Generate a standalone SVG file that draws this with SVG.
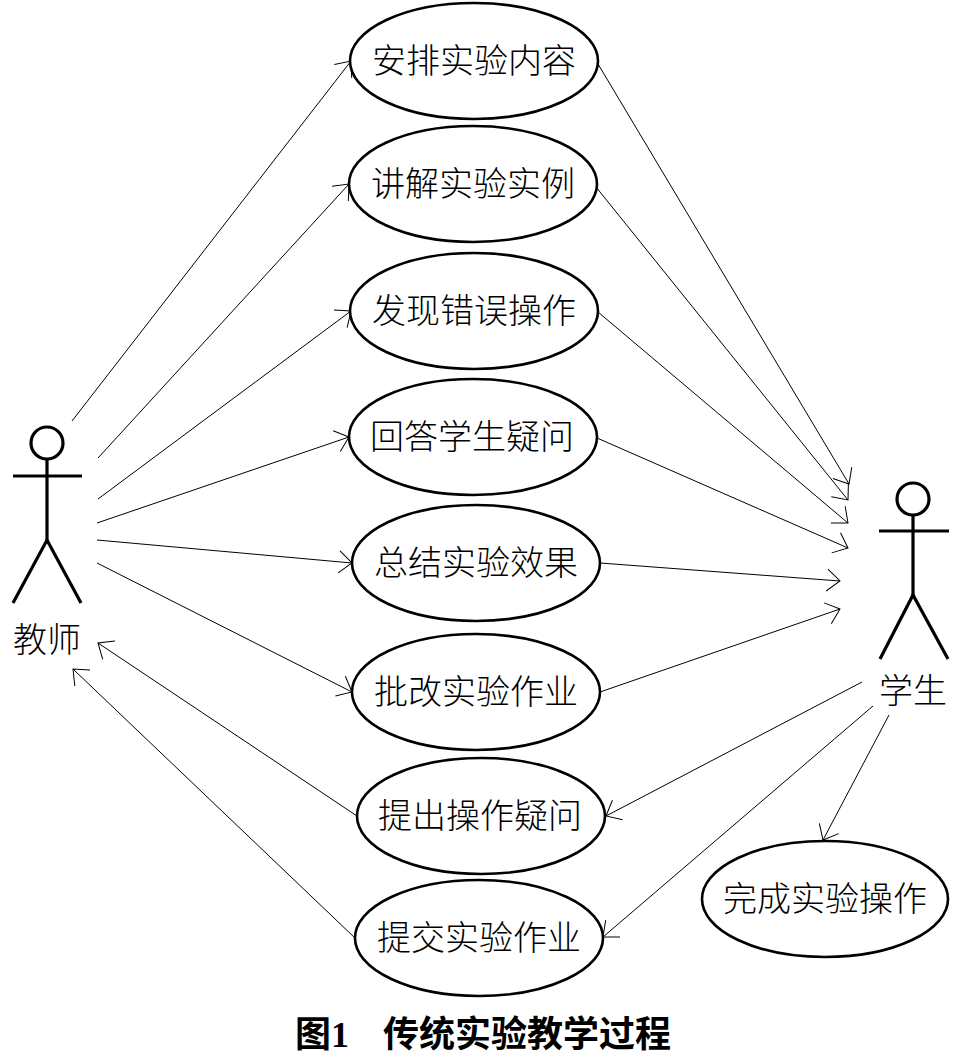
<svg xmlns="http://www.w3.org/2000/svg" width="967" height="1055" viewBox="0 0 967 1055">
<defs>
<style>
.uc{fill:#fff;stroke:#000;stroke-width:2.6}
.lbl{font-family:"Noto Sans CJK SC","Noto Sans CJK JP",sans-serif;font-size:34px;font-weight:300;fill:#000;text-anchor:middle}
.act{fill:none;stroke:#000;stroke-width:3.2}
.con{fill:none;stroke:#000;stroke-width:1;marker-end:url(#arr)}
.cap{font-family:"Noto Sans CJK SC","Noto Sans CJK JP",sans-serif;font-size:36px;font-weight:bold;fill:#000}
</style>
<marker id="arr" markerUnits="userSpaceOnUse" markerWidth="30" markerHeight="30" viewBox="-16 -15 18 30" refX="0" refY="0" orient="auto">
<path d="M-13,-11 L0,0 L-13,11" fill="none" stroke="#000" stroke-width="1"/>
</marker>
</defs>
<rect width="967" height="1055" fill="#fff"/>

<g id="connectors">
<line class="con" x1="72" y1="421" x2="351" y2="61"/>
<line class="con" x1="98" y1="458" x2="349" y2="184"/>
<line class="con" x1="98" y1="499" x2="351" y2="311"/>
<line class="con" x1="97" y1="523" x2="349" y2="437"/>
<line class="con" x1="97" y1="540" x2="352" y2="563"/>
<line class="con" x1="97" y1="563" x2="352" y2="692"/>
<line class="con" x1="357" y1="816" x2="98" y2="643"/>
<line class="con" x1="355" y1="938" x2="73" y2="669"/>
<line class="con" x1="598" y1="64" x2="849" y2="484"/>
<line class="con" x1="596" y1="187" x2="848" y2="500"/>
<line class="con" x1="598" y1="312" x2="848" y2="523"/>
<line class="con" x1="597" y1="438" x2="848" y2="548"/>
<line class="con" x1="600" y1="563" x2="840" y2="581"/>
<line class="con" x1="600" y1="692" x2="840" y2="609"/>
<line class="con" x1="862" y1="682" x2="606" y2="816"/>
<line class="con" x1="873" y1="706" x2="603" y2="937"/>
<line class="con" x1="889" y1="715" x2="823" y2="840"/>
</g>

<g id="teacher">
<circle class="act" cx="47" cy="443" r="16"/>
<line class="act" x1="13" y1="476" x2="82" y2="476"/>
<line class="act" x1="47" y1="459" x2="47" y2="540"/>
<polyline class="act" points="13,603 47,540 81,603"/>
<text class="lbl" x="47" y="652">教师</text>
</g>

<g id="student">
<circle class="act" cx="913" cy="499" r="16"/>
<line class="act" x1="879" y1="531" x2="949" y2="531"/>
<line class="act" x1="913" y1="515" x2="913" y2="595"/>
<polyline class="act" points="880,659 913,595 948,659"/>
<text class="lbl" x="913" y="703">学生</text>
</g>

<g id="uc1"><ellipse class="uc" cx="474" cy="61" rx="124" ry="58"/><text class="lbl" x="474" y="73">安排实验内容</text></g>
<g id="uc2"><ellipse class="uc" cx="473" cy="184" rx="124" ry="58"/><text class="lbl" x="473" y="196">讲解实验实例</text></g>
<g id="uc3"><ellipse class="uc" cx="474" cy="311" rx="124" ry="58"/><text class="lbl" x="474" y="323">发现错误操作</text></g>
<g id="uc4"><ellipse class="uc" cx="473" cy="437" rx="124" ry="58"/><text class="lbl" x="472" y="449">回答学生疑问</text></g>
<g id="uc5"><ellipse class="uc" cx="476" cy="563" rx="124" ry="58"/><text class="lbl" x="476" y="575">总结实验效果</text></g>
<g id="uc6"><ellipse class="uc" cx="476" cy="692" rx="124" ry="58"/><text class="lbl" x="476" y="704">批改实验作业</text></g>
<g id="uc7"><ellipse class="uc" cx="481" cy="816" rx="124" ry="58"/><text class="lbl" x="480" y="828">提出操作疑问</text></g>
<g id="uc8"><ellipse class="uc" cx="479" cy="938" rx="124" ry="58"/><text class="lbl" x="479" y="950">提交实验作业</text></g>
<g id="uc9"><ellipse class="uc" cx="825" cy="899" rx="123" ry="58"/><text class="lbl" x="825" y="911">完成实验操作</text></g>

<g id="caption">
<text class="cap" x="295" y="1047">图<tspan font-family="Liberation Serif,serif">1</tspan></text>
<text class="cap" x="383" y="1047">传统实验教学过程</text>
</g>
</svg>
